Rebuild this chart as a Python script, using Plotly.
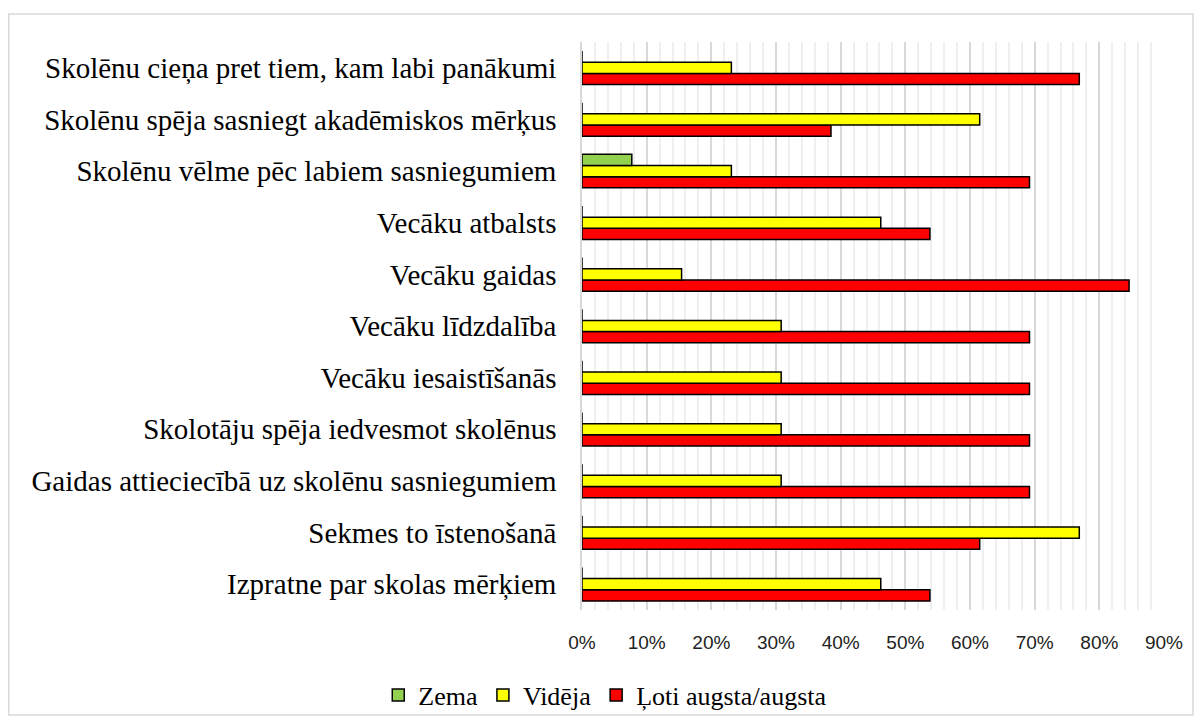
import plotly.graph_objects as go

categories = [
    "Izpratne par skolas mērķiem",
    "Sekmes to īstenošanā",
    "Gaidas attieciecībā uz skolēnu sasniegumiem",
    "Skolotāju spēja iedvesmot skolēnus",
    "Vecāku iesaistīšanās",
    "Vecāku līdzdalība",
    "Vecāku gaidas",
    "Vecāku atbalsts",
    "Skolēnu vēlme pēc labiem sasniegumiem",
    "Skolēnu spēja sasniegt akadēmiskos mērķus",
    "Skolēnu cieņa pret tiem, kam labi panākumi",
]
zema = [0, 0, 0, 0, 0, 0, 0, 0, 0.077, 0, 0]
videja = [0.462, 0.769, 0.308, 0.308, 0.308, 0.308, 0.154, 0.462, 0.231, 0.615, 0.231]
augsta = [0.538, 0.615, 0.692, 0.692, 0.692, 0.692, 0.846, 0.538, 0.692, 0.385, 0.769]
tick_vals = [i / 10 for i in range(10)]
tick_text = [f"{i*10}%" for i in range(10)]

line = dict(color="black", width=1.5)
fig = go.Figure()
fig.add_trace(go.Bar(y=categories, x=augsta, orientation="h", name="Ļoti augsta/augsta",
                     marker=dict(color="#FF0000", line=line), legendrank=3))
fig.add_trace(go.Bar(y=categories, x=videja, orientation="h", name="Vidēja",
                     marker=dict(color="#FFFF00", line=line), legendrank=2))
fig.add_trace(go.Bar(y=categories, x=zema, orientation="h", name="Zema",
                     marker=dict(color="#92D050", line=line), legendrank=1))

fig.update_layout(
    width=1186, height=709,
    barmode="group", bargap=0.35, bargroupgap=0,
    paper_bgcolor="white", plot_bgcolor="white",
    margin=dict(l=574, r=30, t=34, b=107, autoexpand=False),
    legend=dict(orientation="h", x=0.04, xanchor="center", y=-0.15, yanchor="middle",
                font=dict(family="Liberation Serif", size=26, color="black"),
                bgcolor="rgba(0,0,0,0)",
                traceorder="normal", itemwidth=30, tracegroupgap=0),
    shapes=[dict(type="rect", xref="paper", yref="paper", x0=-0.985, x1=1.0498,
                 y0=-0.1849, y1=1.0493, line=dict(color="#d9d9d9", width=1.5))],
)
fig.update_xaxes(range=[0, 0.9], tickvals=tick_vals, ticktext=tick_text, automargin=False,
                 showgrid=True, gridcolor="#d9d9d9", gridwidth=1.5,
                 minor=dict(dtick=0.02, tick0=0, showgrid=True, gridcolor="#efefef", gridwidth=1.5),
                 zeroline=False, showline=False,
                 tickfont=dict(family="Liberation Sans", size=19, color="#222"),
                 ticklabelstandoff=19)
fig.update_yaxes(type="category", showgrid=False, zeroline=False, automargin=False,
                 showline=True, linecolor="#d9d9d9", linewidth=1.5,
                 tickfont=dict(family="Liberation Serif", size=29, color="black"),
                 ticklabelstandoff=18)

fig.write_html("out.html")
